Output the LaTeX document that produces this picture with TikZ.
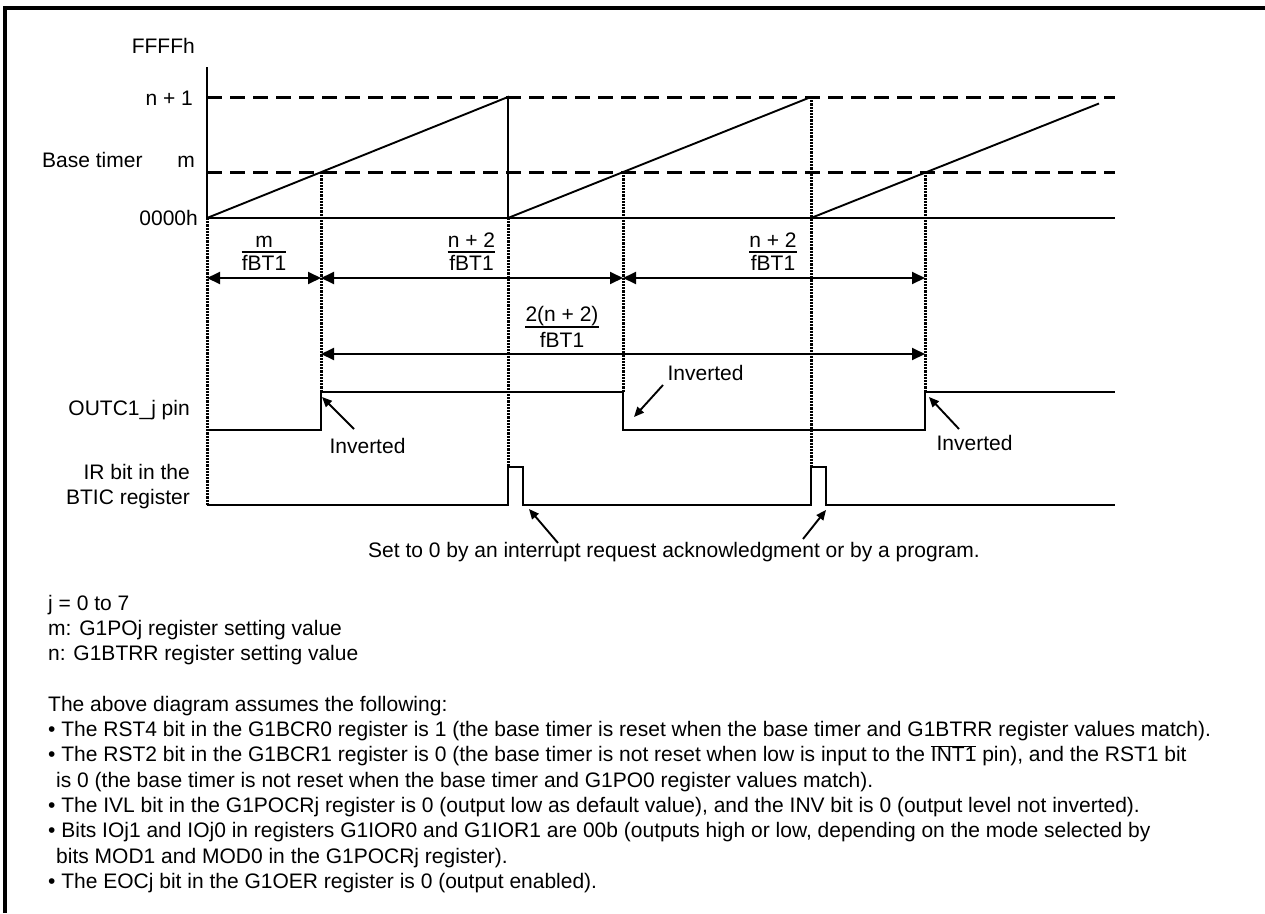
\documentclass[tikz,border=0pt]{standalone}
\usepackage{fontspec}
\setmainfont{Liberation Sans}
\usetikzlibrary{arrows.meta}
\newcommand\fsz{\fontsize{21pt}{25pt}\selectfont}
\begin{document}
\begin{tikzpicture}[x=1pt,y=-1pt,
  lbl/.style={inner sep=0pt, font=\fsz},
  sig/.style={line width=1.9pt, line join=miter},
  lvl/.style={line width=3pt, dash pattern=on 15pt off 8pt},
  guide/.style={line width=3pt, dash pattern=on 2.2pt off 1pt},
  dim/.style={line width=1.9pt, {Triangle[length=13pt,width=12pt]}-{Triangle[length=13pt,width=12pt]}},
  callout/.style={line width=1.9pt, -{Triangle[length=10pt,width=8.5pt]}},
  frameline/.style={line width=4pt, line join=miter}]
\useasboundingbox (0,0) rectangle (1265,913);
% frame
\draw[frameline] (5,913) -- (5,8) -- (1265,8);

% axis labels
\node[lbl, anchor=base east] (ffff) at (195,53) {FFFFh};
\node[lbl, anchor=base east] (np1) at (193,105) {n + 1};
\node[lbl, anchor=base west] (bt) at (42,167) {Base timer};
\node[lbl, anchor=base east] (mlab) at (195,167) {m};
\node[lbl, anchor=base east] (zero) at (198,225) {0000h};

% time points
\coordinate (O) at (207,218);
% axes
\draw[sig] (207,67) -- (O) -- (1115,218);
\draw[lvl] (207,97) -- (1115,97);
\draw[lvl] (207,172) -- (1115,172);
% ramps
\draw[sig] (O) -- (508,97) -- (508,218) -- (811,97);
\draw[sig] (811,218) -- (1099,103.5);

% guides
\draw[guide] (207,218) -- (207,505);
\draw[guide] (321,172) -- (321,392);
\draw[guide] (508,218) -- (508,467);
\draw[guide] (623,172) -- (623,392);
\draw[guide] (811,97) -- (811,467);
\draw[guide] (925,172) -- (925,392);

% dimension arrows row 1
\coordinate (d0) at (207,278);
\coordinate (d1) at (321,278);
\coordinate (d3) at (623,278);
\coordinate (d5) at (925,278);
\draw[dim] (d0) -- (d1);
\draw[dim] (d1) -- (d3);
\draw[dim] (d3) -- (d5);
% fractions row 1
\node[lbl, anchor=base] (f1n) at (264,247) {m};
\node[lbl, anchor=base] (f1d) at (264,270.5) {fBT1};
\coordinate (f1b) at (264,252);
\draw[line width=1.6pt] (f1d.west |- f1b) -- (f1d.east |- f1b);
\node[lbl, anchor=base] (f2n) at (471.5,247.5) {n + 2};
\node[lbl, anchor=base] (f2d) at (471.5,270.5) {fBT1};
\coordinate (f2b) at (471.5,252);
\draw[line width=1.6pt] (f2n.west |- f2b) -- (f2n.east |- f2b);
\node[lbl, anchor=base] (f3n) at (773,247.5) {n + 2};
\node[lbl, anchor=base] (f3d) at (773,270.5) {fBT1};
\coordinate (f3b) at (773,252);
\draw[line width=1.6pt] (f3n.west |- f3b) -- (f3n.east |- f3b);

% dimension arrow row 2
\coordinate (e1) at (321,354);
\coordinate (e5) at (925,354);
\draw[dim] (e1) -- (e5);
\node[lbl, anchor=base] (f4n) at (562,321) {2(n + 2)};
\node[lbl, anchor=base] (f4d) at (562,347) {fBT1};
\coordinate (f4b) at (562,327);
\draw[line width=1.6pt] (f4n.west |- f4b) -- (f4n.east |- f4b);

% OUTC signal
\node[lbl, anchor=base east] (outc) at (190,415) {OUTC1\_j pin};
\draw[sig] (207,430) -- (321,430) -- (321,392) -- (623,392) -- (623,430) -- (925,430) -- (925,392) -- (1115,392);

% IR signal
\node[lbl, anchor=base east] (ir1) at (190,479) {IR bit in the};
\node[lbl, anchor=base east] (ir2) at (190,504) {BTIC register};
\draw[sig] (207,505) -- (508,505) -- (508,467) -- (523,467) -- (523,505) -- (811,505) -- (811,467) -- (826,467) -- (826,505) -- (1115,505);

% Inverted callouts
\node[lbl, anchor=base] (inv1) at (367.5,453) {Inverted};
\coordinate (inv1a) at (354,429);
\coordinate (inv1b) at (322,397);
\draw[callout] (inv1a) -- (inv1b);
\node[lbl, anchor=base] (inv2) at (705.5,380) {Inverted};
\coordinate (inv2a) at (663,385);
\coordinate (inv2b) at (634,417);
\draw[callout] (inv2a) -- (inv2b);
\node[lbl, anchor=base] (inv3) at (974.5,450) {Inverted};
\coordinate (inv3a) at (959,429);
\coordinate (inv3b) at (929,397);
\draw[callout] (inv3a) -- (inv3b);

% Set to 0 callout
\node[lbl, anchor=base] (set0) at (674,557) {Set to 0 by an interrupt request acknowledgment or by a program.};
\coordinate (s1a) at (558,543);
\coordinate (s1b) at (529,509);
\coordinate (s2a) at (803,539);
\coordinate (s2b) at (826,510);
\draw[callout] (s1a) -- (s1b);
\draw[callout] (s2a) -- (s2b);

% notes
\node[lbl, anchor=base west] (n1) at (48,610) {j = 0 to 7};
\node[lbl, anchor=base west] (n2) at (48,635.3) {m: G1POj register setting value};
\node[lbl, anchor=base west] (n3) at (48,660.6) {n: G1BTRR register setting value};
\node[lbl, anchor=base west] (n4) at (48,711.2) {The above diagram assumes the following:};
\node[lbl, anchor=base west] (n5) at (48,736.5) {• The RST4 bit in the G1BCR0 register is 1 (the base timer is reset when the base timer and G1BTRR register values match).};
\node[lbl, anchor=base west] (n6) at (48,761.8) {• The RST2 bit in the G1BCR1 register is 0 (the base timer is not reset when low is input to the $\overline{\mbox{INT1}}$ pin), and the RST1 bit};
\node[lbl, anchor=base west] (n7) at (56,787.1) {is 0 (the base timer is not reset when the base timer and G1PO0 register values match).};
\node[lbl, anchor=base west] (n8) at (48,812.4) {• The IVL bit in the G1POCRj register is 0 (output low as default value), and the INV bit is 0 (output level not inverted).};
\node[lbl, anchor=base west] (n9) at (48,837.7) {• Bits IOj1 and IOj0 in registers G1IOR0 and G1IOR1 are 00b (outputs high or low, depending on the mode selected by};
\node[lbl, anchor=base west] (n10) at (56,863) {bits MOD1 and MOD0 in the G1POCRj register).};
\node[lbl, anchor=base west] (n11) at (48,888.3) {• The EOCj bit in the G1OER register is 0 (output enabled).};
\end{tikzpicture}
\end{document}
